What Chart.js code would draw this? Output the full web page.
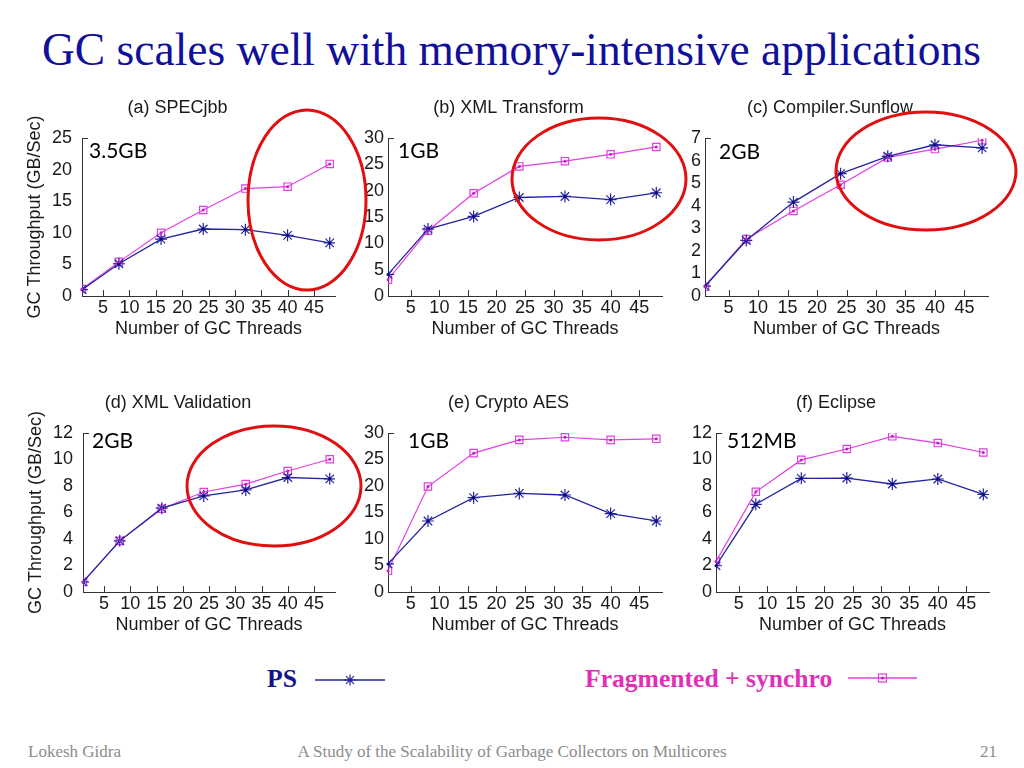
<!DOCTYPE html>
<html>
<head>
<meta charset="utf-8">
<script src="https://cdn.jsdelivr.net/npm/chart.js@4.4.1/dist/chart.umd.min.js"></script>
<style>
  body { margin: 0; width: 1024px; height: 768px; background: #fff; position: relative; overflow: hidden; font-family: "Liberation Sans", Arial, sans-serif; }
  canvas { position: absolute; }
  .abs { position: absolute; white-space: nowrap; }
  #title { left: 42px; top: 27px; font: 45.5px/1 "Liberation Serif", "Times New Roman", serif; color: #10109a; }
  .mem { font: 21px/21px Lato, "Open Sans", sans-serif; color: #000; }
  .foot { top: 743px; font: 17px/1 "Liberation Serif", "Times New Roman", serif; color: #8c8c8c; }
  .leg { top: 666px; font: bold 25.6px/1 "Liberation Serif", "Times New Roman", serif; }
  #marks { position: absolute; left: 0; top: 0; pointer-events: none; }
</style>
</head>
<body>
<div id="title" class="abs">GC scales well with memory-intensive applications</div>

<div class="abs leg" style="left:267px;color:#14148c">PS</div>
<svg class="abs" style="left:312px;top:670px" width="76" height="20">
  <line x1="3" y1="10" x2="73" y2="10" stroke="#2424a0" stroke-width="1.3"/>
  <path d="M38 4.5V15.5M32.5 10H43.5M34.1 6.1L41.9 13.9M41.9 6.1L34.1 13.9" stroke="#2424a0" stroke-width="1.2"/>
</svg>
<div class="abs leg" style="left:585px;color:#e030b8">Fragmented + synchro</div>
<svg class="abs" style="left:845px;top:668px" width="76" height="20">
  <line x1="3" y1="10" x2="72" y2="10" stroke="#e23ee2" stroke-width="1.3"/>
  <rect x="33.5" y="6" width="8" height="8" fill="none" stroke="#e23ee2" stroke-width="1.2"/>
  <circle cx="37.5" cy="10" r="1.5" fill="#c020c0"/>
</svg>

<div class="abs foot" style="left:28px">Lokesh Gidra</div>
<div class="abs foot" style="left:512px;transform:translateX(-50%)">A Study of the Scalability of Garbage Collectors on Multicores</div>
<div class="abs foot" style="left:980px">21</div>

<script>
// x values and ticks
const threads = [1, 8, 16, 24, 32, 40, 48];
const threadTicks = [5, 10, 15, 20, 25, 30, 35, 40, 45];

// GC throughput (GB/Sec) per benchmark
const specjbbPS = [1.0, 5.1, 9.0, 10.6, 10.5, 9.6, 8.4];
const specjbbFrag = [1.1, 5.4, 10.0, 13.6, 17.0, 17.3, 20.9];
const xmlTransformPS = [4.1, 12.7, 15.1, 18.7, 18.9, 18.3, 19.6];
const xmlTransformFrag = [3.1, 12.4, 19.5, 24.6, 25.6, 26.9, 28.3];
const sunflowPS = [0.44, 2.46, 4.16, 5.42, 6.19, 6.70, 6.56];
const sunflowFrag = [0.41, 2.52, 3.77, 4.93, 6.14, 6.51, 6.90];
const xmlValidationPS = [0.76, 3.86, 6.33, 7.25, 7.70, 8.64, 8.54];
const xmlValidationFrag = [0.76, 3.86, 6.28, 7.55, 8.14, 9.13, 10.02];
const cryptoPS = [5.3, 13.4, 17.8, 18.6, 18.3, 14.8, 13.4];
const cryptoFrag = [4.0, 19.9, 26.2, 28.7, 29.2, 28.7, 28.9];
const eclipsePS = [1.98, 6.62, 8.58, 8.60, 8.15, 8.53, 7.36];
const eclipseFrag = [2.31, 7.56, 9.97, 10.79, 11.75, 11.24, 10.53];

const titles = ['(a) SPECjbb', '(b) XML Transform', '(c) Compiler.Sunflow', '(d) XML Validation', '(e) Crypto AES', '(f) Eclipse'];
const heapSizes = ['3.5GB', '1GB', '2GB', '2GB', '1GB', '512MB'];
const yMax = [25, 30, 7, 12, 30, 12];
const yStep = [5, 5, 1, 2, 5, 2];
const seriesNames = ['PS', 'Fragmented + synchro'];

const psSeries = [specjbbPS, xmlTransformPS, sunflowPS, xmlValidationPS, cryptoPS, eclipsePS];
const fragSeries = [specjbbFrag, xmlTransformFrag, sunflowFrag, xmlValidationFrag, cryptoFrag, eclipseFrag];

// plot area boxes on the page
const boxes = [
  { left: 82, right: 335, top: 138, bottom: 296, yw: 62, pad: 10, yTitle: true, mem: [89, 139] },
  { left: 388, right: 662, top: 138, bottom: 296, yw: 33, pad: 4, yTitle: false, mem: [398, 139] },
  { left: 705, right: 988, top: 138, bottom: 296, yw: 33, pad: 4, yTitle: false, mem: [719, 140] },
  { left: 83, right: 335, top: 433, bottom: 592, yw: 62, pad: 10, yTitle: true, mem: [92, 429] },
  { left: 388, right: 662, top: 433, bottom: 592, yw: 33, pad: 4, yTitle: false, mem: [408, 429] },
  { left: 716, right: 989, top: 433, bottom: 592, yw: 33, pad: 4, yTitle: false, mem: [727, 429] },
];

const PS_COLOR = '#2424a0';
const FRAG_COLOR = '#e23ee2';
const font = { family: '"Liberation Sans", Arial, sans-serif', size: 18 };

const innerTicks = {
  id: 'innerTicks',
  afterDraw(chart) {
    const { ctx, scales: { x, y } } = chart;
    ctx.save();
    ctx.strokeStyle = '#333';
    ctx.lineWidth = 1;
    ctx.beginPath();
    threadTicks.forEach(v => {
      const px = Math.round(x.getPixelForValue(v)) + 0.5;
      ctx.moveTo(px, y.bottom);
      ctx.lineTo(px, y.bottom - 6);
    });
    const ty = Math.round(y.getPixelForValue(y.max)) + 0.5;
    ctx.moveTo(x.left, ty);
    ctx.lineTo(x.left + 6, ty);
    ctx.stroke();
    ctx.restore();
  }
};

const centerDots = {
  id: 'centerDots',
  afterDatasetsDraw(chart) {
    const ctx = chart.ctx;
    ctx.save();
    chart.data.datasets.forEach((ds, i) => {
      ctx.fillStyle = ds.dotColor;
      chart.getDatasetMeta(i).data.forEach(pt => {
        ctx.beginPath();
        ctx.arc(pt.x, pt.y, 1.5, 0, Math.PI * 2);
        ctx.fill();
      });
    });
    ctx.restore();
  }
};

boxes.forEach((b, k) => {
  const cv = document.createElement('canvas');
  const w = (b.right - b.left) + 2 * b.yw;
  const h = 44 + (b.bottom - b.top) + 44;
  cv.width = w;
  cv.height = h;
  cv.style.left = (b.left - b.yw) + 'px';
  cv.style.top = (b.top - 44) + 'px';
  document.body.appendChild(cv);

  const mem = document.createElement('div');
  mem.className = 'abs mem';
  mem.style.left = b.mem[0] + 'px';
  mem.style.top = b.mem[1] + 'px';
  mem.textContent = heapSizes[k];
  document.body.appendChild(mem);

  new Chart(cv, {
    type: 'line',
    data: {
      datasets: [
        {
          label: seriesNames[0],
          data: threads.map((x, i) => ({ x, y: psSeries[k][i] })),
          borderColor: PS_COLOR,
          borderWidth: 1.3,
          pointStyle: 'star',
          pointRadius: 6,
          pointBorderColor: PS_COLOR,
          pointBorderWidth: 1.2,
          dotColor: '#0c0c70',
        },
        {
          label: seriesNames[1],
          data: threads.map((x, i) => ({ x, y: fragSeries[k][i] })),
          borderColor: FRAG_COLOR,
          borderWidth: 1.2,
          pointStyle: 'rect',
          pointRadius: 5.2,
          pointBackgroundColor: 'rgba(0,0,0,0)',
          pointBorderColor: FRAG_COLOR,
          pointBorderWidth: 1.2,
          dotColor: '#c020c0',
        },
      ],
    },
    options: {
      responsive: false,
      animation: false,
      devicePixelRatio: 1,
      layout: { padding: { right: b.yw } },
      plugins: {
        legend: { display: false },
        tooltip: { enabled: false },
        title: {
          display: true,
          text: titles[k],
          color: '#1a1a1a',
          font: { ...font, weight: 'normal' },
          padding: { top: 3.2, bottom: 19.2 },
        },
      },
      scales: {
        x: {
          type: 'linear',
          min: 1,
          max: 49,
          afterBuildTicks: s => { s.ticks = threadTicks.map(v => ({ value: v })); },
          afterFit: s => { s.height = 44; },
          grid: { display: false, drawTicks: false },
          border: { display: true, color: '#333', width: 1 },
          ticks: { padding: 1, color: '#1a1a1a', font, maxRotation: 0, autoSkip: false },
          title: { display: true, text: 'Number of GC Threads', color: '#1a1a1a', font, padding: { top: 0, bottom: 0 } },
        },
        y: {
          min: 0,
          max: yMax[k],
          afterFit: s => { s.width = b.yw; },
          grid: { display: false, drawTicks: false },
          border: { display: true, color: '#333', width: 1 },
          ticks: { stepSize: yStep[k], autoSkip: false, padding: b.pad, color: '#1a1a1a', font },
          title: { display: b.yTitle, text: 'GC Throughput (GB/Sec)', color: '#1a1a1a', font, padding: { top: 4, bottom: 0 } },
        },
      },
    },
    plugins: [innerTicks, centerDots],
  });
});
</script>

<svg id="marks" width="1024" height="768">
  <g fill="none" stroke="#e01010" stroke-width="3">
    <ellipse cx="307" cy="200" rx="59" ry="90"/>
    <ellipse cx="599" cy="179" rx="87" ry="61"/>
    <ellipse cx="926" cy="171" rx="90" ry="59"/>
    <ellipse cx="274" cy="486" rx="87" ry="60"/>
  </g>
</svg>
</body>
</html>
